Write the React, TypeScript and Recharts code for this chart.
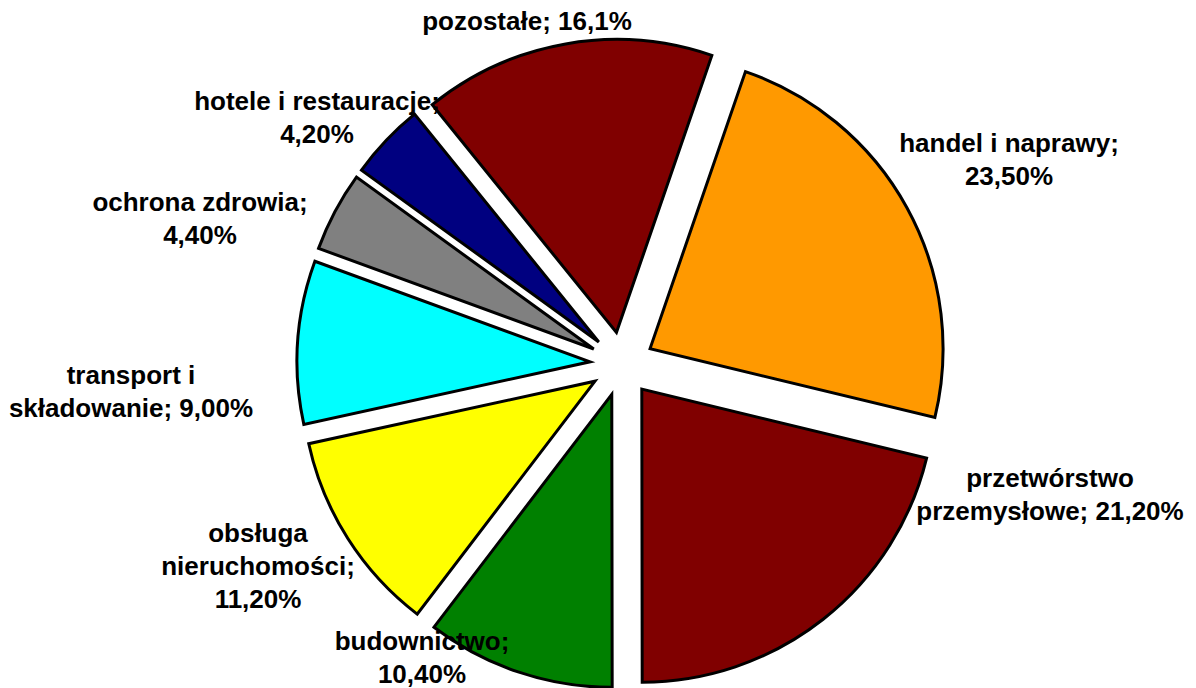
import React from "react";
import { PieChart, Pie, Cell, Sector } from "recharts";

// branch shares, clockwise from the top-right
const sectors = [
  "handel i naprawy",
  "przetwórstwo przemysłowe",
  "budownictwo",
  "obsługa nieruchomości",
  "transport i składowanie",
  "ochrona zdrowia",
  "hotele i restauracje",
  "pozostałe",
];
const shares = [23.5, 21.2, 10.4, 11.2, 9.0, 4.4, 4.2, 16.1];
const shareLabels = ["23,50%", "21,20%", "10,40%", "11,20%", "9,00%", "4,40%", "4,20%", "16,1%"];
const sliceColors = ["#FF9900", "#800000", "#008000", "#FFFF00", "#00FFFF", "#808080", "#000080", "#800000"];

// how each label is broken into lines
const labelLines = [
  ["handel i naprawy;", "23,50%"],
  ["przetwórstwo", "przemysłowe; 21,20%"],
  ["budownictwo;", "10,40%"],
  ["obsługa", "nieruchomości;", "11,20%"],
  ["transport i", "składowanie; 9,00%"],
  ["ochrona zdrowia;", "4,40%"],
  ["hotele i restauracje;", "4,20%"],
  ["pozostałe; 16,1%"],
];

const data = sectors.map((name, i) => ({ name, value: shares[i], text: shareLabels[i] }));

const W = 1196;
const H = 688;
const CX = 622;
const CY = 364;
const R = 293;
const EXPLODE = 32;
const RADIAN = Math.PI / 180;
const FONT = "'Liberation Sans', Arial, sans-serif";
const LINE = 33;

// label placement (centre x, first baseline y)
const labelPos = [
  { x: 1009, y: 152 },
  { x: 1050, y: 487 },
  { x: 422, y: 650 },
  { x: 258, y: 542 },
  { x: 131, y: 384 },
  { x: 200, y: 211 },
  { x: 317, y: 110 },
  { x: 527, y: 30 },
];

function ExplodedSector(props: any) {
  const { cx, cy, midAngle } = props;
  const dx = EXPLODE * Math.cos(-midAngle * RADIAN);
  const dy = EXPLODE * Math.sin(-midAngle * RADIAN);
  return <Sector {...props} cx={cx + dx} cy={cy + dy} />;
}

function renderLabel(props: any) {
  const i = props.index;
  const pos = labelPos[i];
  return (
    <text
      x={pos.x}
      y={pos.y}
      textAnchor="middle"
      fill="#000"
      fontFamily={FONT}
      fontWeight="bold"
      fontSize={26}
    >
      {labelLines[i].map((line, k) => (
        <tspan key={k} x={pos.x} y={pos.y + k * LINE}>
          {line}
        </tspan>
      ))}
    </text>
  );
}

export default function App() {
  return (
    <div style={{ position: "fixed", left: 0, top: 0, width: W, height: H, background: "#fff" }}>
      <PieChart width={W} height={H} margin={{ top: 0, right: 0, bottom: 0, left: 0 }}>
        <Pie
          data={data}
          dataKey="value"
          nameKey="name"
          cx={CX}
          cy={CY}
          outerRadius={R}
          startAngle={71}
          endAngle={-289}
          stroke="#000"
          strokeWidth={3}
          shape={(p: any) => <ExplodedSector {...p} />}
          label={renderLabel}
          labelLine={false}
          isAnimationActive={false}
        >
          {data.map((d, i) => (
            <Cell key={d.name} fill={sliceColors[i]} stroke="#000" strokeWidth={3} />
          ))}
        </Pie>
      </PieChart>
    </div>
  );
}
